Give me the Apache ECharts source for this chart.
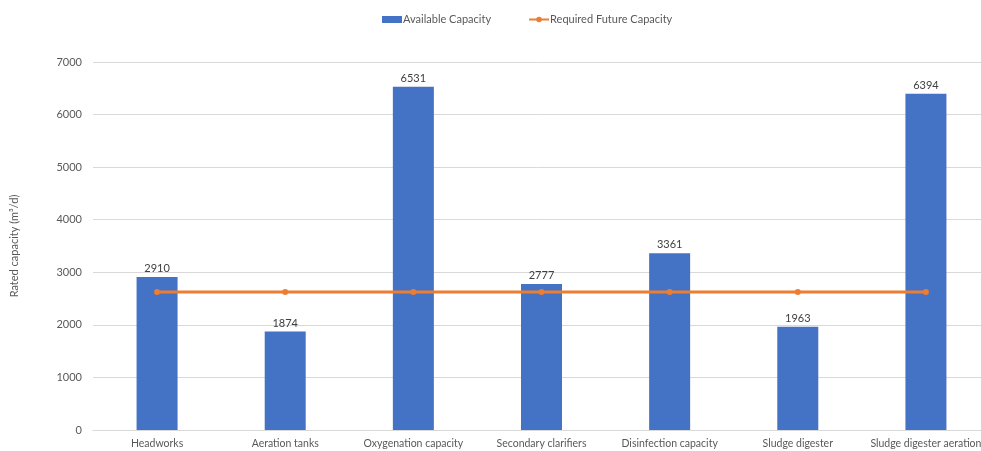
<!DOCTYPE html>
<html>
<head>
<meta charset="utf-8">
<script src="https://cdn.jsdelivr.net/npm/echarts@6/dist/echarts.min.js"></script>
<style>
  html, body { margin: 0; padding: 0; background: #fff; }
  #chart { width: 981px; height: 451px; }
</style>
</head>
<body>
<div id="chart"></div>
<script>
// Treatment units and their capacities (m³/d)
const categories = [
  'Headworks', 'Aeration tanks', 'Oxygenation capacity', 'Secondary clarifiers',
  'Disinfection capacity', 'Sludge digester', 'Sludge digester aeration'
];
const availableCapacity = [2910, 1874, 6531, 2777, 3361, 1963, 6394];
const requiredFutureCapacity = [2625, 2625, 2625, 2625, 2625, 2625, 2625];
const yTicks = { min: 0, max: 7000, interval: 1000 };

const font = 'Lato, Open Sans, sans-serif';
const chart = echarts.init(document.getElementById('chart'), null, { renderer: 'canvas' });

chart.setOption({
  animation: false,
  textStyle: { fontFamily: font },
  legend: {
    top: 9,
    left: 377,
    itemWidth: 20,
    itemHeight: 7,
    itemGap: 37,
    textStyle: { fontSize: 11, color: '#595959', fontFamily: font, padding: [0, 0, 0, -4] },
    data: [
      { name: 'Available Capacity', icon: 'rect' },
      { name: 'Required Future Capacity' }
    ]
  },
  grid: { left: 93, right: -9, top: 62, bottom: 21, containLabel: false, outerBoundsMode: 'none' },
  xAxis: {
    type: 'category',
    data: categories,
    axisLine: { lineStyle: { color: '#d9d9d9', width: 1 } },
    axisTick: { show: false },
    axisLabel: { color: '#595959', fontSize: 10.5, margin: 8, interval: 0, hideOverlap: false }
  },
  yAxis: {
    type: 'value',
    min: yTicks.min,
    max: yTicks.max,
    interval: yTicks.interval,
    name: 'Rated capacity (m³/d)',
    nameLocation: 'middle',
    nameGap: 73,
    nameRotate: 90,
    nameTextStyle: { color: '#595959', fontSize: 11 },
    axisLine: { show: false },
    axisTick: { show: false },
    axisLabel: { color: '#595959', fontSize: 11, margin: 11, formatter: (v) => String(v) },
    splitLine: { lineStyle: { color: '#d9d9d9', width: 1 } }
  },
  series: [
    {
      name: 'Available Capacity',
      type: 'bar',
      data: availableCapacity,
      barWidth: 41,
      itemStyle: { color: '#4472C4' },
      label: {
        show: true,
        position: 'top',
        distance: 3,
        color: '#404040',
        fontSize: 11
      }
    },
    {
      name: 'Required Future Capacity',
      type: 'line',
      data: requiredFutureCapacity,
      symbol: 'circle',
      symbolSize: 6,
      lineStyle: { color: '#ED7D31', width: 3 },
      itemStyle: { color: '#ED7D31' },
      z: 3
    }
  ]
});
</script>
</body>
</html>
